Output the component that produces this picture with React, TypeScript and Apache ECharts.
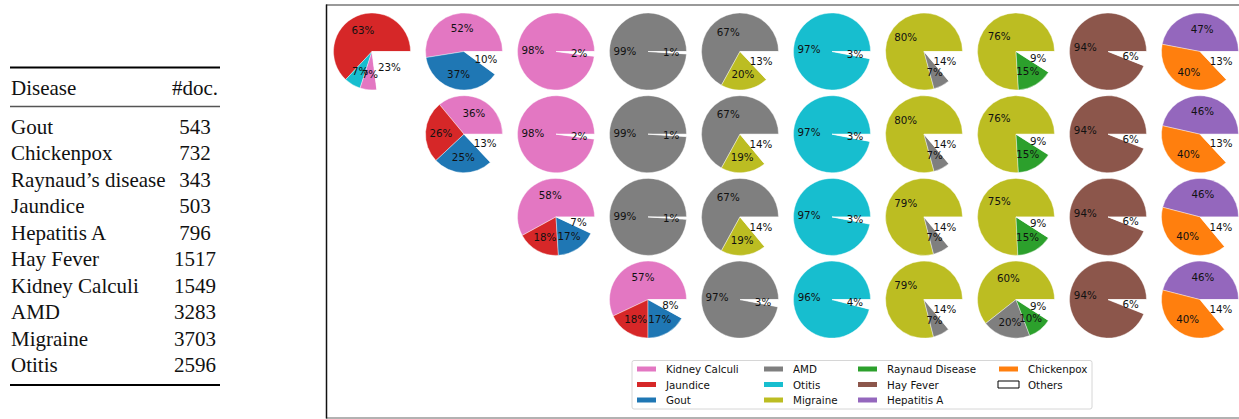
import React, { useEffect, useRef } from 'react';
import * as echarts from 'echarts';

// ---------- data ----------
const diseases = ['Gout', 'Chickenpox', 'Raynaud\u2019s disease', 'Jaundice', 'Hepatitis A', 'Hay Fever', 'Kidney Calculi', 'AMD', 'Migraine', 'Otitis'];
const docCounts = [543, 732, 343, 503, 796, 1517, 1549, 3283, 3703, 2596];
const tableHeader = ['Disease', '#doc.'];

const legendColumns = [
  ['Kidney Calculi', 'Jaundice', 'Gout'],
  ['AMD', 'Otitis', 'Migraine'],
  ['Raynaud Disease', 'Hay Fever', 'Hepatitis A'],
  ['Chickenpox', 'Others'],
];

type Pie = { names: string[]; values: number[] } | null;

const row0: Pie[] = [
  { names: ['Jaundice', 'Otitis', 'Kidney Calculi', 'Others'], values: [63, 7, 7, 23] },
  { names: ['Kidney Calculi', 'Gout', 'Others'], values: [52, 37, 10] },
  { names: ['Kidney Calculi', 'Others'], values: [98, 2] },
  { names: ['AMD', 'Others'], values: [99, 1] },
  { names: ['AMD', 'Migraine', 'Others'], values: [67, 20, 13] },
  { names: ['Otitis', 'Others'], values: [97, 3] },
  { names: ['Migraine', 'AMD', 'Others'], values: [80, 7, 14] },
  { names: ['Migraine', 'Raynaud Disease', 'Others'], values: [76, 15, 9] },
  { names: ['Hay Fever', 'Others'], values: [94, 6] },
  { names: ['Hepatitis A', 'Chickenpox', 'Others'], values: [47, 40, 13] },
];
const row1: Pie[] = [
  null,
  { names: ['Kidney Calculi', 'Jaundice', 'Gout', 'Others'], values: [36, 26, 25, 13] },
  { names: ['Kidney Calculi', 'Others'], values: [98, 2] },
  { names: ['AMD', 'Others'], values: [99, 1] },
  { names: ['AMD', 'Migraine', 'Others'], values: [67, 19, 14] },
  { names: ['Otitis', 'Others'], values: [97, 3] },
  { names: ['Migraine', 'AMD', 'Others'], values: [80, 7, 14] },
  { names: ['Migraine', 'Raynaud Disease', 'Others'], values: [76, 15, 9] },
  { names: ['Hay Fever', 'Others'], values: [94, 6] },
  { names: ['Hepatitis A', 'Chickenpox', 'Others'], values: [46, 40, 13] },
];
const row2: Pie[] = [
  null,
  null,
  { names: ['Kidney Calculi', 'Jaundice', 'Gout', 'Others'], values: [58, 18, 17, 7] },
  { names: ['AMD', 'Others'], values: [99, 1] },
  { names: ['AMD', 'Migraine', 'Others'], values: [67, 19, 14] },
  { names: ['Otitis', 'Others'], values: [97, 3] },
  { names: ['Migraine', 'AMD', 'Others'], values: [79, 7, 14] },
  { names: ['Migraine', 'Raynaud Disease', 'Others'], values: [75, 15, 9] },
  { names: ['Hay Fever', 'Others'], values: [94, 6] },
  { names: ['Hepatitis A', 'Chickenpox', 'Others'], values: [46, 40, 14] },
];
const row3: Pie[] = [
  null,
  null,
  null,
  { names: ['Kidney Calculi', 'Jaundice', 'Gout', 'Others'], values: [57, 18, 17, 8] },
  { names: ['AMD', 'Others'], values: [97, 3] },
  { names: ['Otitis', 'Others'], values: [96, 4] },
  { names: ['Migraine', 'AMD', 'Others'], values: [79, 7, 14] },
  { names: ['Migraine', 'AMD', 'Raynaud Disease', 'Others'], values: [60, 20, 10, 9] },
  { names: ['Hay Fever', 'Others'], values: [94, 6] },
  { names: ['Hepatitis A', 'Chickenpox', 'Others'], values: [46, 40, 14] },
];
const pieRows = [row0, row1, row2, row3];

// ---------- styles ----------
const COLORS: Record<string, string> = {
  'Kidney Calculi': '#e377c2',
  Jaundice: '#d62728',
  Gout: '#1f77b4',
  AMD: '#7f7f7f',
  Otitis: '#17becf',
  Migraine: '#bcbd22',
  'Raynaud Disease': '#2ca02c',
  'Hay Fever': '#8c564b',
  'Hepatitis A': '#9467bd',
  Chickenpox: '#ff7f0e',
  Others: '#ffffff',
};
const SANS = 'DejaVu Sans';
const SERIF = 'Liberation Serif';
const X0 = 372;
const DX = 92;
const Y0 = 51.5;
const DY = 82.7;
const R = 38.5;
const LABEL_SIZE = 10.3;
// ECharts puts inside labels at (r + r0) / 2 + 3px; choose r0 so labels land at 0.6 R
const LABEL_R0 = 0.2 * R - 6;

function buildOption() {
  const series: any[] = [];
  pieRows.forEach((row, r) => {
    row.forEach((p, c) => {
      if (!p) return;
      const center = [X0 + c * DX, Y0 + r * DY];
      series.push({
        type: 'pie',
        center,
        radius: [0, R],
        startAngle: 0,
        clockwise: false,
        silent: true,
        emphasis: { disabled: true },
        label: { show: false },
        labelLine: { show: false },
        itemStyle: { borderColor: '#ffffff', borderWidth: 0.4 },
        data: p.names.map((n, i) => ({ name: n, value: p.values[i], itemStyle: { color: COLORS[n] } })),
      });
      series.push({
        type: 'pie',
        center,
        radius: [LABEL_R0, R],
        startAngle: 0,
        clockwise: false,
        silent: true,
        avoidLabelOverlap: false,
        labelLayout: { hideOverlap: false },
        emphasis: { disabled: true },
        labelLine: { show: false },
        itemStyle: { color: 'rgba(0,0,0,0)', borderWidth: 0 },
        label: {
          show: true,
          position: 'inside',
          rotate: 0,
          formatter: '{c}%',
          fontFamily: SANS,
          fontSize: LABEL_SIZE,
          color: '#111',
        },
        data: p.names.map((n, i) => ({ name: n, value: p.values[i] })),
      });
    });
  });

  const legendLefts = [635, 762, 856, 997];
  const legend = legendColumns.map((col, k) => ({
    orient: 'vertical',
    left: legendLefts[k],
    top: 363,
    padding: 0,
    icon: 'rect',
    itemWidth: 21,
    itemHeight: 7,
    itemGap: 3.5,
    selectedMode: false,
    textStyle: { fontFamily: SANS, fontSize: LABEL_SIZE, color: '#111', lineHeight: 12, padding: [0, 0, 0, 4] },
    data: col.map((n) =>
      n === 'Others'
        ? { name: n, itemStyle: { color: '#ffffff', borderColor: '#000000', borderWidth: 1 } }
        : { name: n, itemStyle: { color: COLORS[n] } }
    ),
  }));

  const graphics: any[] = [];
  // table rules
  graphics.push({ type: 'line', shape: { x1: 10, y1: 67.5, x2: 220, y2: 67.5 }, style: { stroke: '#000', lineWidth: 2 } });
  graphics.push({ type: 'line', shape: { x1: 10, y1: 106.5, x2: 220, y2: 106.5 }, style: { stroke: '#555', lineWidth: 1.4 } });
  graphics.push({ type: 'line', shape: { x1: 10, y1: 385, x2: 220, y2: 385 }, style: { stroke: '#000', lineWidth: 2 } });
  graphics.push({
    type: 'text', x: 11, y: 88,
    style: { text: tableHeader[0], font: `21px "${SERIF}"`, fill: '#111', align: 'left', verticalAlign: 'middle' },
  });
  graphics.push({
    type: 'text', x: 195, y: 88,
    style: { text: tableHeader[1], font: `21px "${SERIF}"`, fill: '#111', align: 'center', verticalAlign: 'middle' },
  });
  diseases.forEach((d, i) => {
    const y = 127 + i * 26.45;
    graphics.push({
      type: 'text', x: 11, y,
      style: { text: d, font: `21px "${SERIF}"`, fill: '#111', align: 'left', verticalAlign: 'middle' },
    });
    graphics.push({
      type: 'text', x: 195, y,
      style: { text: String(docCounts[i]), font: `21px "${SERIF}"`, fill: '#111', align: 'center', verticalAlign: 'middle' },
    });
  });
  // frame of the pie figure
  graphics.push({ type: 'line', shape: { x1: 326, y1: 5, x2: 1239, y2: 5 }, style: { stroke: '#777', lineWidth: 1.5 } });
  graphics.push({ type: 'line', shape: { x1: 326, y1: 418, x2: 1239, y2: 418 }, style: { stroke: '#999', lineWidth: 1.5 } });
  graphics.push({ type: 'line', shape: { x1: 326.5, y1: 4.5, x2: 326.5, y2: 418.5 }, style: { stroke: '#111', lineWidth: 1.5 } });
  // legend frame
  graphics.push({
    type: 'rect', z: -1,
    shape: { x: 632, y: 360.5, width: 460, height: 48.5, r: 2 },
    style: { fill: '#fff', stroke: '#d6d6d6', lineWidth: 1 },
  });

  return {
    animation: false,
    backgroundColor: '#ffffff',
    legend,
    series,
    graphic: graphics,
  };
}

export default function App() {
  const ref = useRef<HTMLDivElement>(null);
  useEffect(() => {
    if (!ref.current) return;
    const chart = echarts.init(ref.current, undefined, { renderer: 'svg' });
    chart.setOption(buildOption() as any);
    return () => chart.dispose();
  }, []);
  return (
    <div
      ref={ref}
      style={{ position: 'fixed', left: 0, top: 0, width: 1239, height: 419, background: '#fff' }}
    />
  );
}
